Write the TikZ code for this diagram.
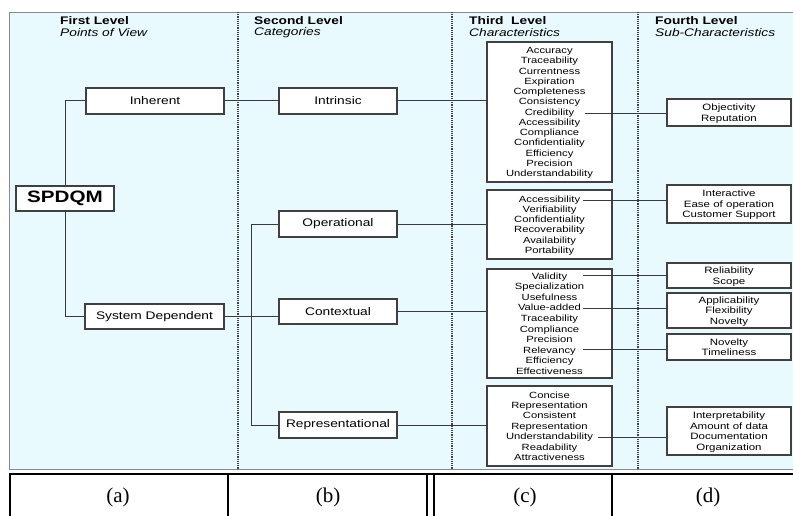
\documentclass[tikz,border=0pt]{standalone}
\usepackage{fontspec}
\setmainfont{Liberation Sans}[FakeStretch=1.25]
\newfontfamily\tablefont{Liberation Serif}
\definecolor{paneblue}{HTML}{E8FAFE}
\definecolor{framegray}{HTML}{8A8A8A}
\definecolor{boxgray}{HTML}{404040}
\definecolor{linkgray}{HTML}{3A3A3A}
\begin{document}
\begin{tikzpicture}[x=1pt, y=-1pt,
    hdr/.style={anchor=west, inner sep=0pt, font=\bfseries\fontsize{11}{13}\selectfont},
    hdrsub/.style={anchor=west, inner sep=0pt, font=\itshape\fontsize{11}{13}\selectfont},
    lvlbox/.style={draw=boxgray, fill=white, line width=1.3pt, inner sep=0pt, font=\fontsize{11}{13}\selectfont},
    charbox/.style={draw=boxgray, fill=white, line width=1.3pt, inner sep=0pt, align=center, text depth=0pt,
        minimum width=125pt, font=\fontsize{9}{10.25}\selectfont},
    subbox/.style={draw=boxgray, fill=white, line width=1.3pt, inner sep=0pt, align=center, text depth=0pt,
        minimum width=124pt, font=\fontsize{9.2}{10.6}\selectfont},
    link/.style={draw=linkgray, line width=1pt},
    column/.style={draw=boxgray, densely dotted, line width=1.2pt},
    tabline/.style={draw=black, line width=1.5pt}]
    \useasboundingbox (0,0) rectangle (793,516);

    % panel and column separators
    \draw[draw=framegray, fill=paneblue, line width=0.8pt] (9,12) rectangle (797,469);
    \draw[column] (238,12) -- (238,469);
    \draw[column] (452,12) -- (452,469);
    \draw[column] (638,12) -- (638,469);

    % column headers
    \node[hdr] (lvlOne) at (60,21) {First Level};
    \node[hdrsub] (lvlOneSub) at (60,33) {Points of View};
    \node[hdr] (lvlTwo) at (254,21) {Second Level};
    \node[hdrsub] (lvlTwoSub) at (254,33) {Categories};
    \node[hdr] (lvlThree) at (469,21) {Third \ Level};
    \node[hdrsub] (lvlThreeSub) at (469,33) {Characteristics};
    \node[hdr] (lvlFour) at (655,21) {Fourth Level};
    \node[hdrsub] (lvlFourSub) at (655,33) {Sub-Characteristics};

    % first level
    \node[lvlbox, minimum width=98pt, minimum height=25pt, font=\bfseries\fontsize{16.5}{18}\selectfont] (spdqm) at (65,198.5) {SPDQM};
    \node[lvlbox, minimum width=138pt, minimum height=26pt] (inherent) at (155,101) {Inherent};
    \node[lvlbox, minimum width=139pt, minimum height=25pt] (sysdep) at (154.5,316.5) {System Dependent};

    \draw[link] (inherent.west) -| (spdqm.north);
    \draw[link] (spdqm.south) |- (sysdep.west);

    % second level
    \node[lvlbox, minimum width=118pt, minimum height=26pt] (intrinsic) at (338,101) {Intrinsic};
    \node[lvlbox, minimum width=118pt, minimum height=26pt] (operational) at (338,224) {Operational};
    \node[lvlbox, minimum width=118pt, minimum height=25pt] (contextual) at (338,311.5) {Contextual};
    \node[lvlbox, minimum width=118pt, minimum height=26pt] (representational) at (338,425) {Representational};

    \draw[link] (inherent.east) -- (intrinsic.west);
    \draw[link] (sysdep.east) -- (sysdep.east -| contextual.west);
    \draw[link] (operational.west) -- ++(-27,0) |- (representational.west);

    % third level
    \node[charbox, minimum height=140pt] (chIntr) at (549.5,112) {Accuracy\\Traceability\\Currentness\\Expiration\\Completeness\\Consistency\\Credibility\\Accessibility\\Compliance\\Confidentiality\\Efficiency\\Precision\\Understandability};
    \node[charbox, minimum height=69pt] (chOper) at (549.5,224.5) {Accessibility\\Verifiability\\Confidentiality\\Recoverability\\Availability\\Portability};
    \node[charbox, minimum height=109pt, font=\fontsize{9}{10.55}\selectfont] (chCont) at (549.5,323.5) {Validity\\Specialization\\Usefulness\\Value-added\\Traceability\\Compliance\\Precision\\Relevancy\\Efficiency\\Effectiveness};
    \node[charbox, minimum height=80pt, font=\fontsize{9}{10.4}\selectfont] (chRepr) at (549.5,426) {Concise\\Representation\\Consistent\\Representation\\Understandability\\Readability\\Attractiveness};

    \draw[link] (intrinsic.east) -- (intrinsic.east -| chIntr.west);
    \draw[link] (operational.east) -- (operational.east -| chOper.west);
    \draw[link] (contextual.east) -- (contextual.east -| chCont.west);
    \draw[link] (representational.east) -- (representational.east -| chRepr.west);

    % fourth level
    \node[subbox, minimum height=27pt] (subCred) at (729,112.5) {Objectivity\\Reputation};
    \node[subbox, minimum height=38pt] (subAcc) at (729,204) {Interactive\\Ease of operation\\Customer Support};
    \node[subbox, minimum height=25pt] (subVal) at (729,275.5) {Reliability\\Scope};
    \node[subbox, minimum height=35pt] (subVadd) at (729,310.5) {Applicability\\Flexibility\\Novelty};
    \node[subbox, minimum height=26pt] (subRel) at (729,347) {Novelty\\Timeliness};
    \node[subbox, minimum height=48pt] (subUnd) at (729,431) {Interpretability\\Amount of data\\Documentation\\Organization};

    \coordinate (cred) at (585,113.5);
    \coordinate (acc) at (583,200.5);
    \coordinate (val) at (583,275.5);
    \coordinate (vadd) at (583,308.5);
    \coordinate (relv) at (583,349.5);
    \coordinate (und) at (598,437);
    \draw[link] (cred) -- (cred -| subCred.west);
    \draw[link] (acc) -- (acc -| subAcc.west);
    \draw[link] (val) -- (val -| subVal.west);
    \draw[link] (vadd) -- (vadd -| subVadd.west);
    \draw[link] (relv) -- (relv -| subRel.west);
    \draw[link] (und) -- (und -| subUnd.west);

    % caption row
    \draw[tabline] (10,520) -- (10,474) -- (797,474);
    \draw[tabline] (228,474) -- (228,520);
    \draw[tabline] (427,474) -- (427,520);
    \draw[tabline] (434,474) -- (434,520);
    \draw[tabline] (612,474) -- (612,520);
    \node[font=\tablefont\fontsize{21}{24}\selectfont] (lblA) at (118,497) {(a)};
    \node[font=\tablefont\fontsize{21}{24}\selectfont] (lblB) at (328,497) {(b)};
    \node[font=\tablefont\fontsize{21}{24}\selectfont] (lblC) at (525,497) {(c)};
    \node[font=\tablefont\fontsize{21}{24}\selectfont] (lblD) at (708,497) {(d)};
\end{tikzpicture}
\end{document}
